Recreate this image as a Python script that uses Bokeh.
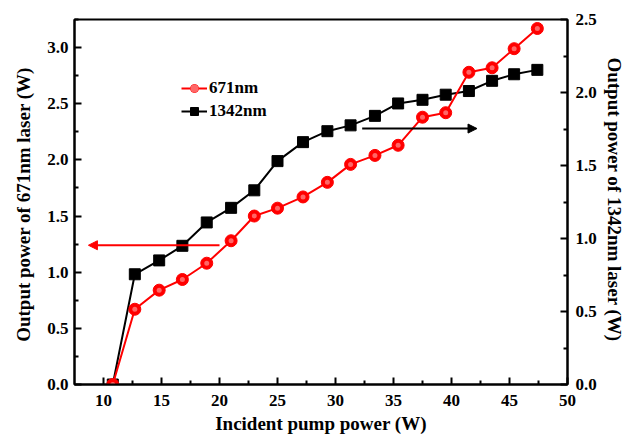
from bokeh.plotting import figure
from bokeh.models import (Range1d, LinearAxis, FixedTicker, NumeralTickFormatter,
                          Legend, LegendItem, Arrow, NormalHead)
from bokeh.embed import file_html
from bokeh.resources import INLINE

# ---- data ----
pump_w = [10.8, 12.7, 14.8, 16.8, 18.9, 21.0, 23.0, 25.0, 27.2, 29.3,
          31.3, 33.4, 35.4, 37.5, 39.5, 41.5, 43.5, 45.4, 47.4]
p671_w = [0.0, 0.67, 0.84, 0.935, 1.08, 1.28, 1.50, 1.57, 1.67, 1.80,
          1.96, 2.04, 2.13, 2.38, 2.42, 2.78, 2.82, 2.99, 3.17]
p1342_w = [0.0, 0.755, 0.85, 0.95, 1.11, 1.21, 1.33, 1.53, 1.66, 1.735,
           1.775, 1.84, 1.925, 1.95, 1.985, 2.01, 2.08, 2.125, 2.155]

x_ticks = [10, 15, 20, 25, 30, 35, 40, 45, 50]
x_minor = [12.5, 17.5, 22.5, 27.5, 32.5, 37.5, 42.5, 47.5]
left_ticks = [0.0, 0.5, 1.0, 1.5, 2.0, 2.5, 3.0]
left_minor = [0.25, 0.75, 1.25, 1.75, 2.25, 2.75, 3.25]
right_ticks = [0.0, 0.5, 1.0, 1.5, 2.0, 2.5]
right_minor = [0.25, 0.75, 1.25, 1.75, 2.25]

# annotation arrows (data coordinates)
red_arrow_x = [20.0, 8.7]
red_arrow_y = [1.24, 1.24]
black_arrow_x = [32.3, 42.2]
black_arrow_y = [1.753, 1.753]

FONT = "Liberation Serif"

p = figure(frame_width=493, frame_height=365,
           min_border_left=74, min_border_right=58,
           min_border_top=19, min_border_bottom=55,
           x_range=Range1d(7.5, 50), y_range=Range1d(0, 3.25),
           output_backend="svg", toolbar_location=None,
           background_fill_color="white", border_fill_color="white")
p.extra_y_ranges = {"right": Range1d(0, 2.5)}
p.grid.visible = False
p.outline_line_color = "black"
p.outline_line_width = 2

right_axis = LinearAxis(y_range_name="right")
p.add_layout(right_axis, "right")


def style(ax, ticks, minor, title, title_size):
    ax.ticker = FixedTicker(ticks=ticks, minor_ticks=minor)
    ax.axis_line_width = 2
    ax.axis_line_color = "black"
    ax.major_tick_in = 7
    ax.major_tick_out = 0
    ax.minor_tick_in = 4
    ax.minor_tick_out = 0
    ax.major_tick_line_width = 2
    ax.minor_tick_line_width = 2
    ax.major_tick_line_color = "black"
    ax.minor_tick_line_color = "black"
    ax.major_label_text_font = FONT
    ax.major_label_text_font_style = "bold"
    ax.major_label_text_font_size = "17px"
    ax.major_label_text_color = "black"
    ax.axis_label = title
    ax.axis_label_text_font = FONT
    ax.axis_label_text_font_style = "bold"
    ax.axis_label_text_font_size = title_size
    ax.axis_label_text_color = "black"


style(p.xaxis[0], x_ticks, x_minor, "Incident pump power (W)", "19px")
style(p.yaxis[0], left_ticks, left_minor, "Output power of 671nm laser  (W)", "19px")
style(right_axis, right_ticks, right_minor, "Output power of 1342nm laser  (W)", "19px")

p.xaxis[0].major_label_standoff = 10
p.xaxis[0].axis_label_standoff = 4
p.yaxis[0].major_label_standoff = 6
p.yaxis[0].axis_label_standoff = 10
p.yaxis[0].formatter = NumeralTickFormatter(format="0.0")
right_axis.major_label_standoff = 8
right_axis.axis_label_standoff = 4
right_axis.formatter = NumeralTickFormatter(format="0.0")

# 1342 nm series (right axis)
b_line = p.line(pump_w, p1342_w, y_range_name="right", line_color="black", line_width=2)
b_pts = p.scatter(pump_w, p1342_w, y_range_name="right", marker="square", size=11,
                  fill_color="black", line_color="black")

# 671 nm series (left axis)
r_line = p.line(pump_w, p671_w, line_color="#ff0000", line_width=2)
r_pts = p.scatter(pump_w, p671_w, marker="circle", size=12,
                  fill_color="#ff0000", line_color="#ff0000")
r_hl = p.scatter(pump_w, p671_w, marker="circle", size=5,
                 fill_color="#ff8080", fill_alpha=0.8, line_color=None)

p.add_layout(Arrow(end=NormalHead(size=9, fill_color="#ff0000", line_color="#ff0000"),
                   x_start=red_arrow_x[0], y_start=red_arrow_y[0],
                   x_end=red_arrow_x[1], y_end=red_arrow_y[1],
                   line_color="#ff0000", line_width=2))
p.add_layout(Arrow(end=NormalHead(size=9, fill_color="black", line_color="black"),
                   x_start=black_arrow_x[0], y_start=black_arrow_y[0],
                   x_end=black_arrow_x[1], y_end=black_arrow_y[1],
                   y_range_name="right", line_color="black", line_width=2))

legend = Legend(items=[LegendItem(label="671nm", renderers=[r_line, r_pts, r_hl]),
                       LegendItem(label="1342nm", renderers=[b_line, b_pts])],
                location=(107, 263), border_line_color=None, background_fill_alpha=0,
                padding=0, margin=0, spacing=3, glyph_width=26, glyph_height=20,
                label_standoff=2, label_height=20,
                label_text_font=FONT, label_text_font_style="bold",
                label_text_font_size="17px", label_text_color="black")
p.add_layout(legend)

open("out.html", "w").write(file_html(p, INLINE))
